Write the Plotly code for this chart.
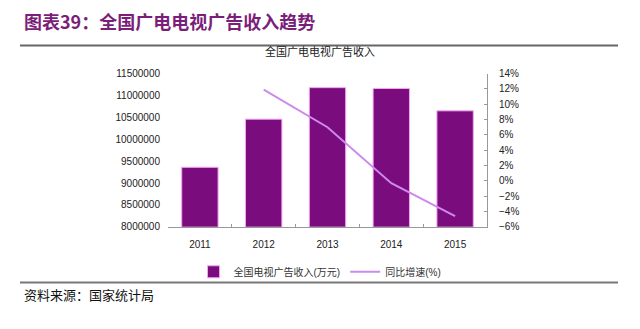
import plotly.graph_objects as go

years = ["2011", "2012", "2013", "2014", "2015"]
revenue = [9360000, 10460000, 11180000, 11160000, 10650000]
growth = [None, 11.9, 7.0, -0.3, -4.6]

W, H = 640, 329
def py(y):
    return 1 - y / H

fig = go.Figure()
fig.add_trace(go.Bar(
    x=years, y=revenue, name="全国电视广告收入(万元)",
    marker=dict(color="#7B0C7E", line=dict(color="#F2A6F2", width=1)),
    width=0.57, yaxis="y",
))
fig.add_trace(go.Scatter(
    x=years, y=growth, name="同比增速(%)", mode="lines",
    line=dict(color="#CC8AEE", width=2), yaxis="y2",
))

tickfont = dict(family="Liberation Sans, Arial, sans-serif", size=10, color="#222")
fig.update_layout(
    width=W, height=H,
    margin=dict(l=0, r=0, t=0, b=0),
    paper_bgcolor="white", plot_bgcolor="white",
    showlegend=True,
    legend=dict(orientation="h", x=0.5, xanchor="center", y=py(261), yanchor="top",
                font=dict(family="Liberation Sans, Noto Sans CJK SC, sans-serif", size=10, color="#333"),
                itemwidth=30, tracegroupgap=0, bgcolor="rgba(0,0,0,0)"),
    bargap=0.43,
    xaxis=dict(domain=[168 / W, 487 / W], type="category",
               showline=True, linecolor="#999", linewidth=1,
               ticks="inside", ticklen=3, tickcolor="#999", tickson="boundaries",
               tickfont=tickfont, showgrid=False, ticklabelstandoff=8),
    yaxis=dict(domain=[py(229.5), py(71)], range=[8000000, 11500000], dtick=500000,
               tickformat="d", showgrid=False, showline=False, ticks="",
               tickfont=tickfont, anchor="x", ticklabelstandoff=7),
    yaxis2=dict(overlaying="y", side="right", range=[-6, 14], dtick=2, ticksuffix="%",
                showgrid=False, showline=True, linecolor="#999", linewidth=1,
                ticks="inside", ticklen=3, tickcolor="#999",
                tickfont=tickfont, anchor="x", ticklabelstandoff=9),
    font=dict(family="Liberation Sans, Noto Sans CJK SC, sans-serif"),
    shapes=[
        dict(type="line", xref="paper", yref="paper", x0=20 / W, x1=618 / W, y0=py(42), y1=py(42),
             line=dict(color="#666", width=2)),
        dict(type="line", xref="paper", yref="paper", x0=20 / W, x1=618 / W, y0=py(287), y1=py(287),
             line=dict(color="#777", width=2)),
    ],
    annotations=[
        dict(text="<b>图表39：全国广电电视广告收入趋势</b>", xref="paper", yref="paper",
             x=22 / W, y=py(17), xanchor="left", yanchor="middle", showarrow=False,
             font=dict(family="Noto Sans CJK SC, sans-serif", size=18, color="#7B1E7A")),
        dict(text="全国广电电视广告收入", xref="paper", yref="paper",
             x=0.5, y=py(48), xanchor="center", yanchor="middle", showarrow=False,
             font=dict(family="Noto Sans CJK SC, sans-serif", size=11, color="#222")),
        dict(text="资料来源：国家统计局", xref="paper", yref="paper",
             x=22 / W, y=py(300), xanchor="left", yanchor="middle", showarrow=False,
             font=dict(family="Noto Sans CJK SC, sans-serif", size=13, color="#111")),
    ],
)
fig.write_html("out.html")
